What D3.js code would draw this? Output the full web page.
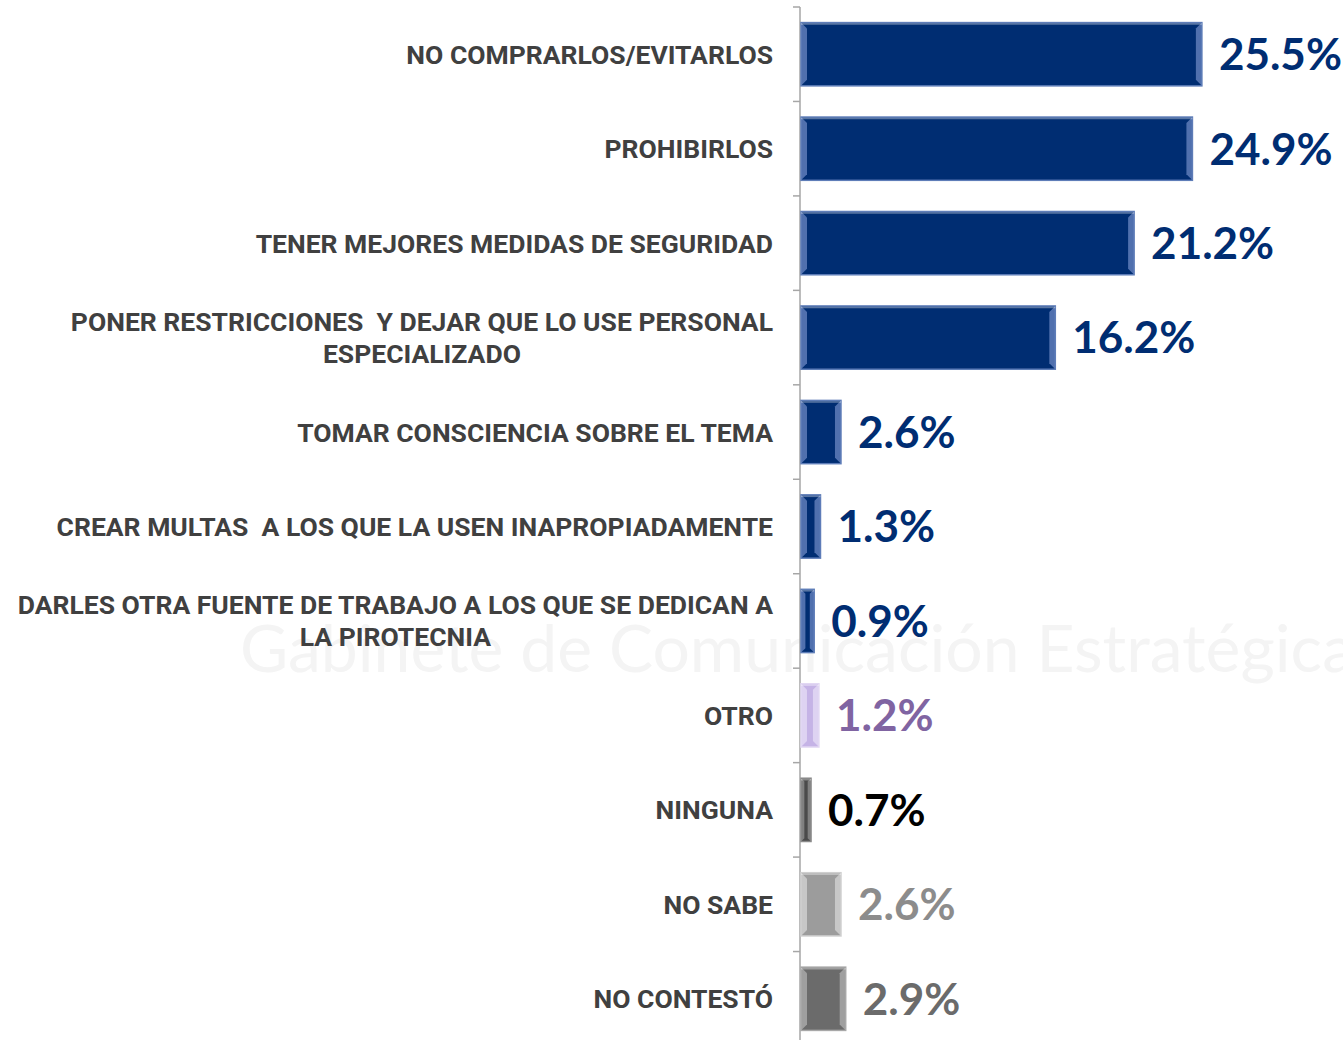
<!DOCTYPE html>
<html>
<head>
<meta charset="utf-8">
<script src="https://cdn.jsdelivr.net/npm/d3@7"></script>
<style>
  body { margin: 0; background: #fff; }
  svg { display: block; }
</style>
</head>
<body>
<svg id="chart" width="1343" height="1040"></svg>
<script>
// data
const categories = [
  "NO COMPRARLOS/EVITARLOS",
  "PROHIBIRLOS",
  "TENER MEJORES MEDIDAS DE SEGURIDAD",
  "PONER RESTRICCIONES  Y DEJAR QUE LO USE PERSONAL|ESPECIALIZADO",
  "TOMAR CONSCIENCIA SOBRE EL TEMA",
  "CREAR MULTAS  A LOS QUE LA USEN INAPROPIADAMENTE",
  "DARLES OTRA FUENTE DE TRABAJO A LOS QUE SE DEDICAN A|LA PIROTECNIA",
  "OTRO",
  "NINGUNA",
  "NO SABE",
  "NO CONTESTÓ"
];
const values = [25.5, 24.9, 21.2, 16.2, 2.6, 1.3, 0.9, 1.2, 0.7, 2.6, 2.9];
const barColors = ["#002D72", "#002D72", "#002D72", "#002D72", "#002D72", "#002D72", "#002D72",
                   "#C5B3E6", "#4A4A4A", "#9C9C9C", "#6B6B6B"];
const edgeColors = ["#5E7DB8", "#5E7DB8", "#5E7DB8", "#5E7DB8", "#5E7DB8", "#5E7DB8", "#5E7DB8",
                    "#E2D8F3", "#8A8A8A", "#CFCFCF", "#A8A8A8"];
const labelColors = ["#002D72", "#002D72", "#002D72", "#002D72", "#002D72", "#002D72", "#002D72",
                     "#8064A2", "#000000", "#8C8C8C", "#6B6B6B"];

const svg = d3.select("#chart");
const axisX = 800;
const plotTop = 7, plotBottom = 1046;

// faint watermark behind the chart
svg.append("text")
    .attr("x", 240)
    .attr("y", 672)
    .style("font-family", "Lato")
    .style("font-size", "66px")
    .style("fill", "#f4f4f4")
    .text("Gabinete de Comunicación Estratégica");

let x = d3.scaleLinear()
    .domain([0, 30])
    .range([axisX, axisX + 15.76 * 30]);

let y = d3.scaleBand()
    .domain(categories)
    .range([plotTop, plotBottom])
    .paddingInner(0.33)
    .paddingOuter(0.165);

// axis line + ticks between categories
svg.append("line")
    .attr("x1", axisX).attr("x2", axisX)
    .attr("y1", plotTop).attr("y2", 1040)
    .style("stroke", "#a6a6a6").style("stroke-width", 1.5);

let tickPos = d3.range(categories.length + 1).map(i => plotTop + i * y.step());
svg.selectAll(".tick")
    .data(tickPos)
    .enter().append("line")
    .attr("x1", axisX - 7).attr("x2", axisX)
    .attr("y1", d => d).attr("y2", d => d)
    .style("stroke", "#a6a6a6").style("stroke-width", 1.5);

// bars with bevel
let bars = svg.selectAll(".bar")
    .data(values)
    .enter().append("g")
    .attr("class", "bar");

bars.each(function(v, i) {
    let g = d3.select(this);
    let x0 = x(0) + 1, x1 = x(v);
    let w = x1 - x0;
    let y0 = y(categories[i]);
    let h = y.bandwidth();
    let b = Math.min(6, w / 3);
    g.append("rect")
        .attr("x", x0).attr("y", y0)
        .attr("width", w).attr("height", h)
        .style("fill", barColors[i])
        .style("stroke", edgeColors[i]).style("stroke-width", 1.5);
    // left bevel
    g.append("path")
        .attr("d", `M${x0},${y0} L${x0 + b},${y0 + b} L${x0 + b},${y0 + h - b} L${x0},${y0 + h} Z`)
        .style("fill", edgeColors[i]).style("opacity", 0.85);
    // right bevel
    g.append("path")
        .attr("d", `M${x1},${y0} L${x1 - b},${y0 + b} L${x1 - b},${y0 + h - b} L${x1},${y0 + h} Z`)
        .style("fill", edgeColors[i]).style("opacity", 0.85);
    // top highlight
    g.append("line")
        .attr("x1", x0).attr("x2", x1)
        .attr("y1", y0 + 1.5).attr("y2", y0 + 1.5)
        .style("stroke", "#ffffff").style("stroke-opacity", 0.35).style("stroke-width", 1.5);
});

// value labels
svg.selectAll(".val")
    .data(values)
    .enter().append("text")
    .attr("x", d => x(d) + 17)
    .attr("y", (d, i) => y(categories[i]) + y.bandwidth() / 2)
    .attr("dy", "0.36em")
    .style("font-family", "Lato")
    .style("font-weight", "bold")
    .style("font-size", "44px")
    .style("fill", (d, i) => labelColors[i])
    .text(d => d.toFixed(1) + "%");

// category labels (right aligned block, lines centered within it)
const labelRight = 773;
const lineH = 32;
categories.forEach((c, i) => {
    let lines = c.split("|");
    let cy = y(c) + y.bandwidth() / 2;
    let g = svg.append("g");
    let texts = lines.map((ln, j) => g.append("text")
        .attr("y", cy + (j - (lines.length - 1) / 2) * lineH)
        .attr("dy", "0.36em")
        .style("white-space", "pre")
        .style("font-family", "Roboto")
        .style("font-weight", "bold")
        .style("font-size", "26.5px")
        .style("fill", "#404040")
        .text(ln));
    let widths = texts.map(t => t.node().getComputedTextLength());
    let maxW = d3.max(widths);
    let center = labelRight - maxW / 2;
    texts.forEach(t => t.attr("x", center).attr("text-anchor", "middle"));
});
</script>
</body>
</html>
